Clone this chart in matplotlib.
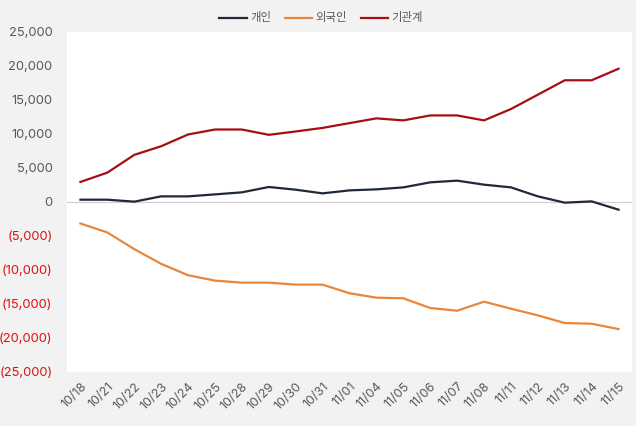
import matplotlib
matplotlib.use("Agg")
import matplotlib.pyplot as plt
from matplotlib.ticker import FuncFormatter

plt.rcParams['font.family'] = ['Inter', 'Noto Sans CJK KR', 'DejaVu Sans']

dates = ["10/18", "10/21", "10/22", "10/23", "10/24", "10/25", "10/28", "10/29", "10/30", "10/31",
         "11/01", "11/04", "11/05", "11/06", "11/07", "11/08", "11/11", "11/12", "11/13", "11/14", "11/15"]
individual = [340, 340, 50, 830, 830, 1120, 1420, 2210, 1810, 1270,
              1710, 1860, 2150, 2890, 3140, 2550, 2150, 830, -100, 90, -1130]
foreign = [-3160, -4480, -6930, -9100, -10770, -11560, -11860, -11860, -12150, -12150,
           -13420, -14070, -14160, -15590, -15990, -14660, -15690, -16670, -17800, -17900, -18690]
institution = [2950, 4320, 6930, 8200, 9930, 10660, 10660, 9880, 10370, 10900,
               11600, 12300, 12000, 12730, 12730, 12000, 13670, 15780, 17900, 17900, 19600]
series_names = ["개인", "외국인", "기관계"]
colors = ["#1f2937", "#e8863c", "#a50e12"]
yticks = list(range(-25000, 25001, 5000))

fig = plt.figure(figsize=(6.36, 4.26), dpi=100)
fig.patch.set_facecolor("#f2f2f2")
ax = fig.add_axes([67/636, 1-372/426, 565/636, 340/426])
ax.set_facecolor("white")

x = list(range(len(dates)))
for vals, name, c in zip([individual, foreign, institution], series_names, colors):
    ax.plot(x, vals, color=c, lw=1.6, label=name, solid_joinstyle="round")

ax.axhline(0, color="#d0d0d0", lw=0.9, zorder=0)
ax.set_xlim(-0.5, len(dates) - 0.5)
ax.set_ylim(-25000, 25000)
ax.set_yticks(yticks)

def fmt(v, pos):
    v = int(round(v))
    if v < 0:
        return "({:,})".format(-v)
    return "{:,}".format(v)

ax.yaxis.set_major_formatter(FuncFormatter(fmt))
for lab, v in zip(ax.get_yticklabels(), yticks):
    lab.set_color("#e01010" if v < 0 else "#595959")
ax.tick_params(axis="y", length=0, pad=10.5, labelsize=9.3)
ax.set_xticks(x)
ax.set_xticklabels(dates, rotation=45, ha="right", rotation_mode="anchor", color="#595959", fontsize=9)
ax.tick_params(axis="x", length=0, pad=6)
for s in ax.spines.values():
    s.set_visible(False)

leg = fig.legend(loc="center", bbox_to_anchor=(0.505, 1 - 18/426), ncol=3, frameon=False,
                 fontsize=8.2, handlelength=2.4, columnspacing=1.2, handletextpad=0.3)
for t in leg.get_texts():
    t.set_color("#595959")

fig.savefig("out.png", dpi=100, facecolor=fig.get_facecolor())
